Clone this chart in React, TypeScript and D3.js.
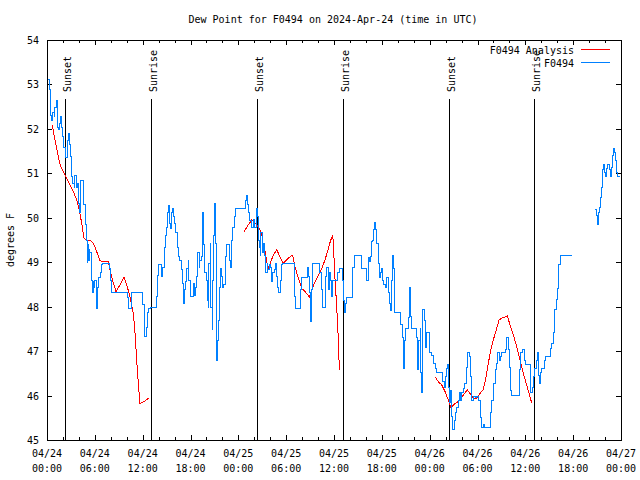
import React from "react";
import * as d3 from "d3";

const W = 640;
const H = 480;

const titleText = "Dew Point for F0494 on 2024-Apr-24 (time in UTC)";
const yAxisLabel = "degrees F";
const seriesNames = ["F0494 Analysis", "F0494"];
const seriesColors = ["#ff0000", "#0080ff"];

const xTickHours = [0, 6, 12, 18, 24, 30, 36, 42, 48, 54, 60, 66, 72];
const xTickDates = ["04/24", "04/24", "04/24", "04/24", "04/25", "04/25", "04/25", "04/25", "04/26", "04/26", "04/26", "04/26", "04/27"];
const xTickTimes = ["00:00", "06:00", "12:00", "18:00", "00:00", "06:00", "12:00", "18:00", "00:00", "06:00", "12:00", "18:00", "00:00"];
const yTicks = [45, 46, 47, 48, 49, 50, 51, 52, 53, 54];

const sunHours = [2.3, 13.08, 26.36, 37.17, 50.45, 61.12];
const sunLabels = ["Sunset", "Sunrise", "Sunset", "Sunrise", "Sunset", "Sunrise"];

// Observations (hours since 04/24 00:00 UTC), null = gap
const obsHours = [
  0.16, 0.31, 0.38, 0.59, 0.72, 0.88, 1.0, 1.13, 1.29, 1.42, 1.54, 1.72, 1.84, 1.97, 2.13, 2.26, 2.38, 2.55, 2.67, 2.8,
  2.97, 3.1, 3.22, 3.39, 3.51, 3.64, 3.8, 3.98, 4.05, 4.23, 4.52, 4.55, 4.77, 4.89, 4.98, 5.06, 5.12, 5.18, 5.27, 5.39,
  5.61, 5.68, 5.81, 5.9, 6.02, 6.15, 6.31, 6.44, 6.65, 6.86, 6.99, 7.69, 7.81, 7.99, 8.12, 9.91, 10.07, 10.2, 10.5, 10.62,
  11.79, 12.0, 12.17, 12.29, 12.42, 12.58, 12.76, 12.92, 13.64, 13.76, 13.89, 14.01, 14.17, 14.39, 14.51, 14.68, 14.84, 15.02, 15.09, 15.22,
  15.34, 15.47, 15.59, 15.72, 15.84, 16.02, 16.18, 16.35, 16.52, 16.68, 16.85, 17.02, 17.15, 17.27, 17.4, 17.52, 17.69, 17.81, 17.94, 18.15,
  18.35, 18.48, 18.6, 18.78, 18.94, 19.07, 19.19, 19.36, 19.48, 19.61, 19.78, 19.95, 20.07, 20.2, 20.32, 20.45, 20.57, 20.7, 20.82, 20.91,
  20.99, 21.11, 21.24, 21.36, 21.49, 21.61, 21.74, 21.86, 22.04, 22.2, 22.37, 22.54, 22.7, 22.83, 22.99, 23.12, 23.29, 23.46, 23.62, 24.62,
  24.84, 25.05, 25.18, 25.25, 25.46, 25.68, 25.88, 26.09, 26.22, 26.31, 26.43, 26.51, 26.63, 26.72, 26.84, 26.97, 27.13, 27.26, 27.38, 27.47,
  27.6, 27.72, 27.89, 28.06, 28.19, 28.31, 28.48, 28.64, 28.81, 28.94, 29.06, 29.23, 29.39, 29.57, 30.9, 31.02, 31.2, 31.57, 31.74, 31.9,
  32.49, 32.65, 32.78, 32.9, 33.03, 33.15, 33.33, 34.03, 34.21, 34.37, 34.5, 34.78, 34.91, 35.09, 35.25, 35.41, 35.59, 35.71, 35.84, 36.34,
  36.5, 36.67, 36.92, 37.04, 37.17, 37.29, 37.42, 37.59, 38.22, 38.35, 38.51, 39.26, 39.43, 39.93, 40.1, 40.27, 40.43, 40.61, 40.73, 40.86,
  40.98, 41.11, 41.23, 41.36, 41.52, 41.65, 41.77, 41.93, 42.11, 42.27, 42.44, 42.61, 42.78, 42.94, 43.06, 43.19, 43.31, 43.44, 43.57, 43.65,
  44.12, 44.28, 44.37, 44.53, 44.7, 44.82, 45.03, 45.32, 45.45, 45.62, 45.75, 46.16, 46.29, 46.45, 46.63, 46.79, 46.88, 47.0, 47.13, 47.29,
  47.42, 47.63, 47.76, 47.92, 48.04, 48.26, 48.46, 48.67, 48.88, 49.51, 49.64, 49.8, 49.93, 50.05, 50.22, 50.34, 50.47, 50.64, 50.77, 50.89,
  51.06, 51.18, 51.39, 51.59, 51.72, 51.9, 52.02, 52.22, 52.43, 52.56, 52.72, 52.94, 53.06, 53.27, 53.47, 53.69, 53.9, 54.1, 54.32, 54.44,
  54.73, 54.94, 55.48, 55.57, 55.78, 55.98, 56.2, 56.41, 56.54, 56.7, 56.83, 57.04, 57.45, 57.58, 57.67, 57.87, 58.0, 58.17, 58.3, 59.13,
  59.26, 59.42, 59.68, 59.84, 59.96, 60.5, 60.59, 60.71, 60.88, 61.0, 61.13, 61.34, 61.5, 61.63, 61.76, 61.93, 62.06, 62.26, 62.38, 62.56,
  63.01, 63.1, 63.31, 63.51, 63.64, 63.85, 64.06, 64.22, 64.35, 65.82, 67.0,
  68.74, 68.87, 69.03, 69.16, 69.28, 69.41, 69.58, 69.71, 69.78, 69.91, 70.03, 70.12, 70.28, 70.46, 70.58, 70.71, 70.83, 70.96, 71.03, 71.16,
  71.29, 71.46, 71.54, 71.88,
];
const obsValues: (number | null)[] = [
  53.12, 52.88, 52.31, 52.2, 52.36, 52.27, 52.49, 52.63, 52.04, 51.98, 52.13, 52.27, 52.04, 51.82, 51.59, 51.46, 51.35, 51.75, 51.89, 51.64,
  51.37, 50.92, 50.78, 50.69, 50.96, 50.69, 50.78, 50.33, 50.13, 50.85, 50.85, 50.29, 49.91, 49.86, 49.5, 49.0, 49.39, 49.05, 49.28, 49.23,
  48.6, 48.33, 48.56, 48.44, 48.6, 47.97, 48.44, 48.65, 48.76, 48.94, 48.98, 48.98, 48.87, 48.6, 48.31, 48.31, 48.2, 47.97, 47.97, 48.31,
  48.31, 48.04, 47.54, 47.32, 47.54, 47.86, 47.97, 47.99, 47.99, 48.22, 48.71, 48.96, 48.96, 48.67, 48.89, 49.34, 49.61, 49.79, 50.11, 50.27,
  49.88, 49.77, 50.11, 50.22, 50.02, 49.88, 49.66, 49.34, 49.12, 49.05, 48.83, 48.53, 48.08, 48.38, 48.56, 48.87, 49.05, 48.6, 48.22, 48.22,
  48.53, 48.26, 48.44, 48.67, 49.21, 48.89, 49.05, 49.12, 50.11, 49.39, 48.78, 48.6, 48.15, 47.99, 48.98, 49.43, 47.99, 47.48, 48.6, 49.61,
  50.33, 49.43, 46.8, 47.25, 47.7, 48.44, 48.87, 48.67, 48.44, 48.49, 49.12, 49.39, 49.39, 49.05, 48.89, 49.5, 49.79, 50.02, 50.22, 50.22,
  50.4, 50.51, 50.29, 50.11, 49.95, 49.79, 49.97, 49.79, 50.11, 50.2, 50.02, 49.5, 49.34, 49.16, 49.66, 49.23, 49.43, 49.16, 48.98, 48.78,
  48.98, 48.83, 48.94, 48.89, 48.56, 48.76, 48.83, 48.98, 48.67, 48.44, 48.31, 48.6, 48.94, 48.98, 48.98, 48.22, 47.97, 47.97, 48.38, 48.65,
  48.65, 48.89, 48.67, 48.31, 47.66, 48.38, 48.98, 48.98, 48.76, 48.38, 47.99, 47.99, 48.67, 48.89, 48.38, 48.76, 48.6, 48.22, 48.6, 48.6,
  48.78, 48.87, 48.87, 48.6, 48.15, 47.88, 48.08, 48.2, 48.2, 48.89, 49.16, 49.16, 48.87, 48.87, 48.6, 49.1, 49.01, 49.12, 49.46, 49.5,
  49.73, 49.9, 49.73, 49.43, 48.98, 48.65, 48.78, 48.87, 48.6, 48.49, 48.44, 48.65, 48.31, 48.08, 47.92, 48.6, 49.16, 48.87, 48.6, 47.88,
  47.88, 47.81, 47.59, 47.3, 46.62, 47.25, 47.52, 47.75, 48.44, 47.77, 47.52, 47.52, 47.3, 46.58, 47.25, 47.52, 46.51, 46.08, 47.93, 47.7,
  47.09, 47.41, 47.41, 47.09, 46.98, 46.91, 46.73, 46.62, 46.51, 46.51, 46.31, 46.19, 46.42, 46.62, 46.69, 46.19, 45.85, 46.12, 45.52, 45.23,
  45.45, 45.61, 45.74, 45.9, 46.08, 45.9, 46.06, 46.17, 46.28, 46.64, 46.96, 46.87, 46.42, 45.9, 45.97, 45.95, 45.97, 45.9, 45.5, 45.29,
  45.34, 45.29, 45.29, 45.61, 45.9, 46.28, 46.58, 46.73, 46.96, 46.8, 46.87, 46.98, 47.03, 47.09, 47.3, 47.03, 46.64, 46.12, 46.01, 46.01,
  46.58, 46.98, 47.03, 46.8, 46.69, 46.69, 46.28, 46.06, 46.19, 46.42, 46.62, 46.8, 46.96, 46.46, 46.28, 46.51, 46.62, 46.62, 46.8, 46.89,
  46.89, 47.07, 47.18, 47.43, 47.93, 48.17, 48.42, 48.94, 49.16, 49.16, null,
  50.18, 50.06, 49.86, 50.11, 50.24, 50.45, 50.69, 51.08, 51.21, 51.01, 50.92, 51.12, 51.21, 51.21, 51.08, 50.92, 51.14, 51.41, 51.57, 51.46,
  51.3, 51.01, 50.92, 50.92,
];

// Analysis (hours since 04/24 00:00 UTC), null = gap
const anaHours = [
  0.66, 1.0, 1.42, 1.72, 2.04, 2.38, 2.89, 3.3, 3.73, 4.05, 4.35, 4.64, 4.98, 5.39, 5.81, 6.23, 6.65, 7.69, 7.9, 8.32,
  8.66, 9.16, 9.66, 10.07, 10.5, 10.83, 11.04, 11.25, 11.45, 11.67, 11.88, 12.29, 12.71, 18.0,
  24.71, 25.25, 25.68, 26.09, 26.51, 26.93, 27.13, 27.35, 27.56, 27.76, 28.06, 28.39, 28.81, 29.23, 29.64, 30.07, 30.39, 30.82, 31.11, 31.52,
  31.95, 32.36, 32.9, 33.2, 33.62, 34.03, 34.46, 34.87, 35.29, 35.59, 35.84, 35.92, 36.13, 36.34, 36.55, 36.67, 42.0,
  48.67, 49.09, 49.51, 49.93, 50.34, 50.68, 50.97, 51.39, 51.81, 52.22, 52.72, 53.06, 53.48, 53.9, 54.32, 54.73, 55.07, 55.36, 55.66, 55.98,
  56.41, 56.7, 57.04, 57.45, 57.74, 58.08, 58.5, 58.92, 59.34, 59.75, 60.17, 60.59, 60.8,
];
const anaValues: (number | null)[] = [
  52.08, 51.75, 51.37, 51.15, 51.04, 50.92, 50.74, 50.59, 50.4, 50.17, 49.88, 49.54, 49.5, 49.5, 49.43, 49.24, 49.03, 49.01, 48.83, 48.53,
  48.34, 48.49, 48.66, 48.45, 48.15, 47.85, 47.41, 46.8, 46.28, 45.81, 45.84, 45.88, 45.94, null,
  49.69, 49.84, 49.95, 49.88, 49.8, 49.65, 49.39, 49.24, 49.01, 48.86, 49.01, 49.16, 49.28, 49.12, 48.98, 49.05, 49.11, 49.16, 48.9, 48.64,
  48.41, 48.34, 48.22, 48.37, 48.56, 48.71, 48.86, 49.05, 49.31, 49.5, 49.59, 49.43, 48.6, 48.0, 47.25, 46.58, null,
  46.42, 46.31, 46.24, 46.09, 45.9, 45.71, 45.79, 45.84, 45.92, 46.01, 46.13, 46.05, 45.94, 45.94, 46.05, 46.13, 46.42, 46.73, 47.02, 47.25,
  47.51, 47.7, 47.74, 47.77, 47.79, 47.59, 47.36, 47.1, 46.8, 46.5, 46.24, 45.97, 45.83,
];

type Pt = { h: number; v: number | null };

const FONT = "'DejaVu Sans Mono', monospace";

export default function App() {
  const left = 47, right = 621, top = 40, bottom = 440;
  const x = d3.scaleLinear().domain([0, 72]).range([left, right]);
  const y = d3.scaleLinear().domain([45, 54]).range([bottom, top]);

  const obs: Pt[] = obsHours.map((h, i) => ({ h, v: obsValues[i] }));
  const ana: Pt[] = anaHours.map((h, i) => ({ h, v: anaValues[i] }));

  const obsLine = d3
    .line<Pt>()
    .defined((d) => d.v != null)
    .x((d) => x(d.h))
    .y((d) => y(d.v as number))
    .curve(d3.curveStepAfter);
  const anaLine = d3
    .line<Pt>()
    .defined((d) => d.v != null)
    .x((d) => x(d.h))
    .y((d) => y(d.v as number));

  const minorTicks = d3.range(0, 73, 2).filter((h) => h % 6 !== 0);

  return (
    <svg
      width={W}
      height={H}
      style={{ position: "fixed", left: 0, top: 0, background: "#fff" }}
      fontFamily={FONT}
      fontSize={10}
    >
      <rect x={0} y={0} width={W} height={H} fill="#fff" />
      <text x={333} y={23} textAnchor="middle" fill="#000">
        {titleText}
      </text>

      {/* ticks */}
      <g shapeRendering="crispEdges" stroke="#000">
        {yTicks.map((t) => (
          <g key={t}>
            <line x1={left} x2={left + 5} y1={Math.round(y(t)) + 0.5} y2={Math.round(y(t)) + 0.5} />
            <line x1={right - 5} x2={right} y1={Math.round(y(t)) + 0.5} y2={Math.round(y(t)) + 0.5} />
          </g>
        ))}
        {xTickHours.map((t) => (
          <g key={t}>
            <line x1={Math.round(x(t)) + 0.5} x2={Math.round(x(t)) + 0.5} y1={bottom} y2={bottom - 5} />
            <line x1={Math.round(x(t)) + 0.5} x2={Math.round(x(t)) + 0.5} y1={top} y2={top + 5} />
          </g>
        ))}
        {minorTicks.map((t) => (
          <g key={"m" + t}>
            <line x1={Math.round(x(t)) + 0.5} x2={Math.round(x(t)) + 0.5} y1={bottom} y2={bottom - 3} />
            <line x1={Math.round(x(t)) + 0.5} x2={Math.round(x(t)) + 0.5} y1={top} y2={top + 3} />
          </g>
        ))}
      </g>

      {yTicks.map((t) => (
        <text key={t} x={39} y={y(t) + 4} textAnchor="end" fill="#000">
          {t}
        </text>
      ))}
      {xTickHours.map((t, i) => (
        <g key={t}>
          <text x={x(t)} y={457} textAnchor="middle" fill="#000">
            {xTickDates[i]}
          </text>
          <text x={x(t)} y={472} textAnchor="middle" fill="#000">
            {xTickTimes[i]}
          </text>
        </g>
      ))}

      <text transform={`translate(14,240) rotate(-90)`} textAnchor="middle" fill="#000">
        {yAxisLabel}
      </text>

      {/* sunrise / sunset */}
      {sunHours.map((h, i) => {
        const sx = Math.round(x(h)) + 0.5;
        return (
          <g key={i}>
            <line x1={sx} x2={sx} y1={99} y2={bottom} stroke="#000" shapeRendering="crispEdges" />
            <text transform={`translate(${sx + 5},92) rotate(-90)`} textAnchor="start" fill="#000">
              {sunLabels[i]}
            </text>
          </g>
        );
      })}

      {/* data */}
      <path d={anaLine(ana) || ""} fill="none" stroke={seriesColors[0]} strokeWidth={1} shapeRendering="crispEdges" />
      <path d={obsLine(obs) || ""} fill="none" stroke={seriesColors[1]} strokeWidth={1} shapeRendering="crispEdges" />

      {/* legend */}
      <text x={574} y={54} textAnchor="end" fill="#000">
        {seriesNames[0]}
      </text>
      <line x1={581} x2={610} y1={49.5} y2={49.5} stroke={seriesColors[0]} shapeRendering="crispEdges" />
      <text x={574} y={66.5} textAnchor="end" fill="#000">
        {seriesNames[1]}
      </text>
      <line x1={581} x2={610} y1={62.5} y2={62.5} stroke={seriesColors[1]} shapeRendering="crispEdges" />

      {/* frame */}
      <rect
        x={left + 0.5}
        y={top + 0.5}
        width={right - left}
        height={bottom - top}
        fill="none"
        stroke="#000"
        shapeRendering="crispEdges"
      />
    </svg>
  );
}
